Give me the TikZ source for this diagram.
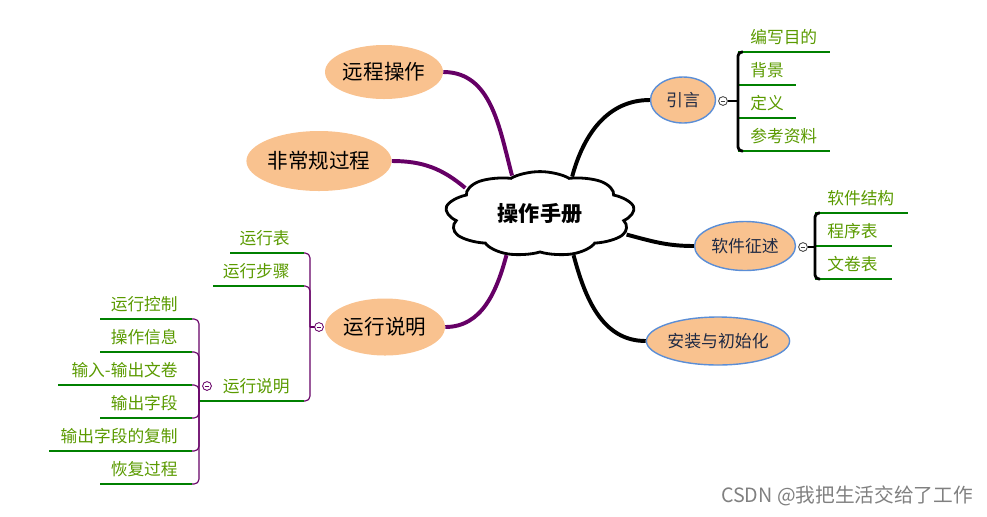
\documentclass[tikz,border=0pt]{standalone}
\usepackage{fontspec}
\setmainfont{Noto Sans CJK SC}
\usetikzlibrary{shapes.geometric,shapes.symbols}
\definecolor{peach}{HTML}{F9C28F}
\definecolor{plum}{HTML}{660066}
\definecolor{leafgreen}{HTML}{5A9A00}
\definecolor{rulegreen}{HTML}{008000}
\definecolor{rim}{HTML}{5B8ED6}
\definecolor{navy}{HTML}{1F2A44}
\begin{document}
\begin{tikzpicture}[x=0.025cm, y=-0.025cm,
	bubble/.style 2 args={ellipse, fill=peach, inner sep=0, minimum width=#1*0.025cm, minimum height=#2*0.025cm, font=\fontsize{14.6}{16}\selectfont},
	rbubble/.style 2 args={bubble={#1}{#2}, draw=rim, line width=1pt, text=navy, font=\fontsize{12}{14}\selectfont},
	root/.style={cloud, cloud puffs=9, cloud puff arc=110, aspect=1, draw, line width=2pt, fill=white, minimum size=2.12cm, inner sep=0, transform shape},
	title/.style={font=\fontsize{15}{17}\selectfont\bfseries},
	branch/.style={line width=2.8pt},
	leafR/.style={anchor=south west, inner xsep=0.3cm, inner ysep=5pt, text=leafgreen, font=\fontsize{11.9}{14}\selectfont},
	leafL/.style={leafR, anchor=south east, inner xsep=0.35cm},
	uline/.style={rulegreen, line width=0.9pt},
	btn/.style={circle, draw=#1, fill=white, minimum size=0.22cm, inner sep=0, line width=0.6pt,
		path picture={\draw[#1, line width=0.6pt] ([xshift=-0.06cm]path picture bounding box.center) -- ([xshift=0.06cm]path picture bounding box.center);}},
	brace/.style={line width=2pt, rounded corners=0.1cm},
	twig/.style={plum, line width=0.8pt, rounded corners=0.12cm}
	]
	\useasboundingbox (0,0) rectangle (987,516);

	\begin{scope}[shift={(540,214)}, xscale=2.24]
		\node[root] (manual) at (0,0) {};
	\end{scope}
	\node[title] (heading) at (manual.center) {操作手册};
	\node[bubble={118}{54}] (remote) at (384,72) {远程操作};
	\node[bubble={144}{60}] (irregular) at (319,161) {非常规过程};
	\node[bubble={120}{57}] (run) at (385,327) {运行说明};
	\node[rbubble={65}{46}] (intro) at (683,100) {引言};
	\node[rbubble={101}{49}] (soft) at (745,246) {软件征述};
	\node[rbubble={137}{48}] (setup) at (718,341) {安装与初始化};

	\draw[plum, branch] (remote.east) to[out=0, in=105] (manual.108);
	\draw[plum, branch] (irregular.east) to[out=0, in=140] (manual.142);
	\draw[plum, branch] (run.east) to[out=0, in=-105] (manual.250);
	\draw[branch] (manual.69) to[out=75, in=180] (intro.west);
	\draw[branch] (manual.332) to[out=-15, in=180] (soft.west);
	\draw[branch] (manual.290) to[out=-75, in=180] (setup.west);

	% 引言
	\foreach \t/\y/\w [count=\i] in {编写目的/52/92, 背景/85/58, 定义/118/58, 参考资料/151/92} {
		\node[leafR] (intro\i) at (738,\y) {\t};
		\draw[uline] (intro\i.south west) -- ++(\w,0);
	}
	\draw[brace] ([xshift=0.12cm]intro1.south west) -| (intro4.south west) -- ++(5,0);
	\node[btn=darkgray] (introbtn) at (723,101) {};
	\draw[brace] (introbtn) -- (introbtn -| intro1.south west);

	% 软件征述
	\foreach \t/\y/\w [count=\i] in {软件结构/213/93, 程序表/246/77, 文卷表/279/77} {
		\node[leafR] (soft\i) at (815,\y) {\t};
		\draw[uline] (soft\i.south west) -- ++(\w,0);
	}
	\draw[brace] ([xshift=0.12cm]soft1.south west) -| (soft3.south west) -- ++(5,0);
	\node[btn=darkgray] (softbtn) at (803,247) {};
	\draw[brace] (softbtn) -- (softbtn -| soft1.south west);

	% 运行说明
	\coordinate (j1) at (310,327);
	\coordinate (j2) at (199,401);
	\foreach \t/\y/\w [count=\i] in {运行表/253/74, 运行步骤/286/91, 运行说明/401/105} {
		\node[leafL] (run\i) at (304,\y) {\t};
		\draw[uline] (run\i.south east) -- ++(-\w,0);
		\draw[twig] (run\i.south east) -| (j1);
	}
	\draw[twig] (j1) -- (319,327);
	\node[btn=plum] (runbtn) at (319,327) {};

	\foreach \t/\y/\w [count=\i] in {运行控制/319/92, 操作信息/352/92, 输入-输出文卷/385/134, 输出字段/418/92, 输出字段的复制/451/143, 恢复过程/484/92} {
		\node[leafL] (step\i) at (192,\y) {\t};
		\draw[uline] (step\i.south east) -- ++(-\w,0);
		\draw[twig] (step\i.south east) -| (j2);
	}
	\node[btn=plum] (stepbtn) at (207,386) {};

	\node[text=gray, font=\fontsize{14}{16}\selectfont] (mark) at (847,496) {CSDN @我把生活交给了工作};
\end{tikzpicture}
\end{document}
